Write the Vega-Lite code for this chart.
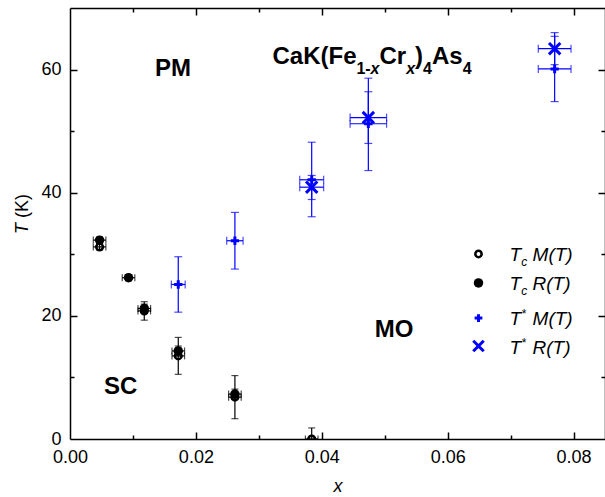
{
  "$schema": "https://vega.github.io/schema/vega-lite/v6.json",
  "width": 535,
  "height": 431,
  "autosize": {"type": "none"},
  "padding": {"left": 70, "top": 8, "right": 0, "bottom": 58},
  "background": "white",
  "config": {"font": "Liberation Sans", "view": {"stroke": null}},
  "datasets": {
    "ax": [{"x": 0, "T": 0}],
    "pts": [
      {"series": "TcM", "x": 0.0047, "xlo": 0.0037, "xhi": 0.0057, "T": 31.2, "Tlo": 30.7, "Thi": 31.7},
      {"series": "TcM", "x": 0.0118, "xlo": 0.0108, "xhi": 0.0128, "T": 20.8, "Tlo": 19.3, "Thi": 22.3},
      {"series": "TcM", "x": 0.0172, "xlo": 0.0162, "xhi": 0.0182, "T": 13.5, "Tlo": 10.5, "Thi": 16.5},
      {"series": "TcM", "x": 0.0262, "xlo": 0.0252, "xhi": 0.0272, "T": 6.8, "Tlo": 3.3, "Thi": 10.3},
      {"series": "TcM", "x": 0.0384, "xlo": 0.0374, "xhi": 0.0394, "T": 0, "Tlo": -1.8, "Thi": 1.8},
      {"series": "TcR", "x": 0.0047, "xlo": 0.0037, "xhi": 0.0057, "T": 32.3, "Tlo": 31.8, "Thi": 32.8},
      {"series": "TcR", "x": 0.0093, "xlo": 0.0083, "xhi": 0.0103, "T": 26.2, "Tlo": 25.7, "Thi": 26.7},
      {"series": "TcR", "x": 0.0118, "xlo": 0.0108, "xhi": 0.0128, "T": 21.2, "Tlo": 20.5, "Thi": 21.9},
      {"series": "TcR", "x": 0.0172, "xlo": 0.0162, "xhi": 0.0182, "T": 14.3, "Tlo": 13.5, "Thi": 15.1},
      {"series": "TcR", "x": 0.0262, "xlo": 0.0252, "xhi": 0.0272, "T": 7.3, "Tlo": 6.5, "Thi": 8.1},
      {"series": "TsM", "x": 0.0172, "xlo": 0.0161, "xhi": 0.0183, "T": 25.1, "Tlo": 20.6, "Thi": 29.6},
      {"series": "TsM", "x": 0.0262, "xlo": 0.0249, "xhi": 0.0275, "T": 32.2, "Tlo": 27.6, "Thi": 36.8},
      {"series": "TsM", "x": 0.0384, "xlo": 0.0365, "xhi": 0.0403, "T": 42.1, "Tlo": 36.1, "Thi": 48.2},
      {"series": "TsM", "x": 0.0474, "xlo": 0.0445, "xhi": 0.0503, "T": 51.2, "Tlo": 43.6, "Thi": 58.6},
      {"series": "TsM", "x": 0.077, "xlo": 0.0744, "xhi": 0.0796, "T": 60.1, "Tlo": 54.8, "Thi": 65.4},
      {"series": "TsR", "x": 0.0384, "xlo": 0.0365, "xhi": 0.0403, "T": 40.9, "Tlo": 38.9, "Thi": 42.8},
      {"series": "TsR", "x": 0.0474, "xlo": 0.0445, "xhi": 0.0503, "T": 52.2, "Tlo": 48.0, "Thi": 56.4},
      {"series": "TsR", "x": 0.077, "xlo": 0.0744, "xhi": 0.0796, "T": 63.4, "Tlo": 60.8, "Thi": 66.0}
    ],
    "leg": [
      {"series": "TcM", "x": 0.0649, "T": 30.05},
      {"series": "TcR", "x": 0.0649, "T": 25.34},
      {"series": "TsM", "x": 0.0649, "T": 19.65},
      {"series": "TsR", "x": 0.0649, "T": 15.1}
    ],
    "bigText": [
      {"text": "CaK(Fe", "x": 0.032175, "T": 60.9},
      {"text": "Cr", "x": 0.049175, "T": 60.9},
      {"text": ")", "x": 0.054825, "T": 60.9},
      {"text": "As", "x": 0.057508, "T": 60.9},
      {"text": "PM", "x": 0.0135, "T": 59.0},
      {"text": "SC", "x": 0.0054, "T": 7.37},
      {"text": "MO", "x": 0.0484, "T": 16.63}
    ],
    "subText": [
      {"text": "1-", "x": 0.045508, "T": 59.2},
      {"text": "4", "x": 0.056095, "T": 59.2},
      {"text": "4", "x": 0.062381, "T": 59.2}
    ],
    "subItalic": [
      {"text": "x", "x": 0.047762, "T": 59.2},
      {"text": "x", "x": 0.053413, "T": 59.2}
    ],
    "legText": [
      {"text": "T", "x": 0.06984, "T": 28.91},
      {"text": "M(T)", "x": 0.07349, "T": 28.91},
      {"text": "T", "x": 0.06984, "T": 24.15},
      {"text": "R(T)", "x": 0.07349, "T": 24.15},
      {"text": "T", "x": 0.06984, "T": 18.47},
      {"text": "M(T)", "x": 0.07349, "T": 18.47},
      {"text": "T", "x": 0.06984, "T": 13.85},
      {"text": "R(T)", "x": 0.07349, "T": 13.85}
    ],
    "legSub": [
      {"text": "c", "x": 0.07168, "T": 28.1},
      {"text": "c", "x": 0.07168, "T": 23.34},
      {"text": "*", "x": 0.07168, "T": 19.6},
      {"text": "*", "x": 0.07168, "T": 15.0}
    ],
    "yTitleItalic": [{"text": "T", "x": -0.00746, "T": 33.3}],
    "yTitleNormal": [{"text": "(K)", "x": -0.00746, "T": 35.9}]
  },
  "resolve": {"axis": {"x": "independent", "y": "independent"}},
  "layer": [
    {
      "data": {"name": "ax"},
      "mark": {"type": "point", "opacity": 0},
      "encoding": {
        "x": {"field": "x", "type": "quantitative", "scale": {"domain": [0, 0.085], "nice": false, "zero": false},
          "axis": {"orient": "bottom", "values": [0, 0.02, 0.04, 0.06, 0.08], "format": ".2f", "ticks": false, "domain": true, "domainColor": "black", "domainWidth": 1.5, "grid": false, "labelFontSize": 18, "labelColor": "black", "labelPadding": 9, "labelFlush": false, "labelOverlap": false, "title": "x", "titleFontStyle": "italic", "titleFontWeight": "normal", "titleFontSize": 18, "titleColor": "black", "titlePadding": 11}},
        "y": {"field": "T", "type": "quantitative", "scale": {"domain": [0, 70], "nice": false},
          "axis": {"orient": "left", "values": [0, 20, 40, 60], "ticks": false, "domain": true, "domainColor": "black", "domainWidth": 1.5, "grid": false, "labelFontSize": 18, "labelColor": "black", "labelPadding": 9, "labelFlush": false, "labelOverlap": false, "title": null}}
      }
    },
    {
      "data": {"name": "ax"},
      "mark": {"type": "point", "opacity": 0},
      "encoding": {
        "x": {"field": "x", "type": "quantitative", "scale": {"domain": [0, 0.085], "nice": false, "zero": false},
          "axis": {"orient": "bottom", "values": [0.02, 0.04, 0.06, 0.08], "labels": false, "domain": false, "ticks": true, "tickSize": -7, "tickWidth": 1.5, "tickColor": "black", "grid": false, "title": null}},
        "y": {"field": "T", "type": "quantitative", "scale": {"domain": [0, 70], "nice": false},
          "axis": {"orient": "left", "values": [20, 40, 60], "labels": false, "domain": false, "ticks": true, "tickSize": -7, "tickWidth": 1.5, "tickColor": "black", "grid": false, "title": null}}
      }
    },
    {
      "data": {"name": "ax"},
      "mark": {"type": "point", "opacity": 0},
      "encoding": {
        "x": {"field": "x", "type": "quantitative", "scale": {"domain": [0, 0.085], "nice": false, "zero": false},
          "axis": {"orient": "bottom", "values": [0.01, 0.03, 0.05, 0.07], "labels": false, "domain": false, "ticks": true, "tickSize": -4, "tickWidth": 1.5, "tickColor": "black", "grid": false, "title": null}},
        "y": {"field": "T", "type": "quantitative", "scale": {"domain": [0, 70], "nice": false},
          "axis": {"orient": "left", "values": [10, 30, 50], "labels": false, "domain": false, "ticks": true, "tickSize": -4, "tickWidth": 1.5, "tickColor": "black", "grid": false, "title": null}}
      }
    },
    {
      "data": {"name": "ax"},
      "mark": {"type": "point", "opacity": 0},
      "encoding": {
        "x": {"field": "x", "type": "quantitative", "scale": {"domain": [0, 0.085], "nice": false, "zero": false},
          "axis": {"orient": "top", "values": [0.02, 0.04, 0.06, 0.08], "labels": false, "domain": true, "domainColor": "black", "domainWidth": 1.5, "ticks": true, "tickSize": -7, "tickWidth": 1.5, "tickColor": "black", "grid": false, "title": null}},
        "y": {"field": "T", "type": "quantitative", "scale": {"domain": [0, 70], "nice": false},
          "axis": {"orient": "right", "values": [20, 40, 60], "labels": false, "domain": true, "domainColor": "black", "domainWidth": 1.5, "ticks": true, "tickSize": -7, "tickWidth": 1.5, "tickColor": "black", "grid": false, "title": null}}
      }
    },
    {
      "data": {"name": "ax"},
      "mark": {"type": "point", "opacity": 0},
      "encoding": {
        "x": {"field": "x", "type": "quantitative", "scale": {"domain": [0, 0.085], "nice": false, "zero": false},
          "axis": {"orient": "top", "values": [0.01, 0.03, 0.05, 0.07], "labels": false, "domain": false, "ticks": true, "tickSize": -4, "tickWidth": 1.5, "tickColor": "black", "grid": false, "title": null}},
        "y": {"field": "T", "type": "quantitative", "scale": {"domain": [0, 70], "nice": false},
          "axis": {"orient": "right", "values": [10, 30, 50], "labels": false, "domain": false, "ticks": true, "tickSize": -4, "tickWidth": 1.5, "tickColor": "black", "grid": false, "title": null}}
      }
    },
    {
      "data": {"name": "pts"},
      "transform": [{"filter": "datum.series == 'TcM' || datum.series == 'TcR'"}],
      "mark": {"type": "errorbar", "color": "black", "thickness": 1.2, "ticks": {"size": 7}, "clip": true},
      "encoding": {
        "x": {"field": "x", "type": "quantitative", "scale": {"domain": [0, 0.085], "nice": false, "zero": false}, "axis": null},
        "y": {"field": "Tlo", "type": "quantitative", "scale": {"domain": [0, 70], "nice": false}, "axis": null},
        "y2": {"field": "Thi"}
      }
    },
    {
      "data": {"name": "pts"},
      "transform": [{"filter": "datum.series == 'TcM' || datum.series == 'TcR'"}],
      "mark": {"type": "errorbar", "color": "black", "thickness": 1.2, "ticks": {"size": 7}, "clip": true},
      "encoding": {
        "x": {"field": "xlo", "type": "quantitative", "scale": {"domain": [0, 0.085], "nice": false, "zero": false}, "axis": null},
        "x2": {"field": "xhi"},
        "y": {"field": "T", "type": "quantitative", "scale": {"domain": [0, 70], "nice": false}, "axis": null}
      }
    },
    {
      "data": {"name": "pts"},
      "transform": [{"filter": "datum.series == 'TsM' || datum.series == 'TsR'"}],
      "mark": {"type": "errorbar", "color": "#0000ff", "thickness": 1.2, "ticks": {"size": 8}, "clip": true},
      "encoding": {
        "x": {"field": "x", "type": "quantitative", "scale": {"domain": [0, 0.085], "nice": false, "zero": false}, "axis": null},
        "y": {"field": "Tlo", "type": "quantitative", "scale": {"domain": [0, 70], "nice": false}, "axis": null},
        "y2": {"field": "Thi"}
      }
    },
    {
      "data": {"name": "pts"},
      "transform": [{"filter": "datum.series == 'TsM' || datum.series == 'TsR'"}],
      "mark": {"type": "errorbar", "color": "#0000ff", "thickness": 1.2, "ticks": {"size": 8}, "clip": true},
      "encoding": {
        "x": {"field": "xlo", "type": "quantitative", "scale": {"domain": [0, 0.085], "nice": false, "zero": false}, "axis": null},
        "x2": {"field": "xhi"},
        "y": {"field": "T", "type": "quantitative", "scale": {"domain": [0, 70], "nice": false}, "axis": null}
      }
    },
    {
      "data": {"name": "pts"},
      "transform": [{"filter": "datum.series == 'TcM'"}],
      "mark": {"type": "point", "shape": "circle", "filled": false, "stroke": "black", "strokeWidth": 2.5, "size": 44, "opacity": 1, "clip": true},
      "encoding": {
        "x": {"field": "x", "type": "quantitative", "scale": {"domain": [0, 0.085], "nice": false, "zero": false}, "axis": null},
        "y": {"field": "T", "type": "quantitative", "scale": {"domain": [0, 70], "nice": false}, "axis": null}
      }
    },
    {
      "data": {"name": "pts"},
      "transform": [{"filter": "datum.series == 'TcR'"}],
      "mark": {"type": "point", "shape": "circle", "filled": true, "color": "black", "size": 90, "opacity": 1},
      "encoding": {
        "x": {"field": "x", "type": "quantitative", "scale": {"domain": [0, 0.085], "nice": false, "zero": false}, "axis": null},
        "y": {"field": "T", "type": "quantitative", "scale": {"domain": [0, 70], "nice": false}, "axis": null}
      }
    },
    {
      "data": {"name": "pts"},
      "transform": [{"filter": "datum.series == 'TsM'"}],
      "mark": {"type": "point", "shape": "M-1,0L1,0M0,-1L0,1", "filled": false, "stroke": "#0000ff", "strokeWidth": 3, "size": 70, "opacity": 1},
      "encoding": {
        "x": {"field": "x", "type": "quantitative", "scale": {"domain": [0, 0.085], "nice": false, "zero": false}, "axis": null},
        "y": {"field": "T", "type": "quantitative", "scale": {"domain": [0, 70], "nice": false}, "axis": null}
      }
    },
    {
      "data": {"name": "pts"},
      "transform": [{"filter": "datum.series == 'TsR'"}],
      "mark": {"type": "point", "shape": "M-1,-1L1,1M-1,1L1,-1", "filled": false, "stroke": "#0000ff", "strokeWidth": 3, "size": 130, "opacity": 1},
      "encoding": {
        "x": {"field": "x", "type": "quantitative", "scale": {"domain": [0, 0.085], "nice": false, "zero": false}, "axis": null},
        "y": {"field": "T", "type": "quantitative", "scale": {"domain": [0, 70], "nice": false}, "axis": null}
      }
    },
    {
      "data": {"name": "leg"},
      "transform": [{"filter": "datum.series == 'TcM'"}],
      "mark": {"type": "point", "shape": "circle", "filled": false, "stroke": "black", "strokeWidth": 2.5, "size": 40, "opacity": 1},
      "encoding": {
        "x": {"field": "x", "type": "quantitative", "scale": {"domain": [0, 0.085], "nice": false, "zero": false}, "axis": null},
        "y": {"field": "T", "type": "quantitative", "scale": {"domain": [0, 70], "nice": false}, "axis": null}
      }
    },
    {
      "data": {"name": "leg"},
      "transform": [{"filter": "datum.series == 'TcR'"}],
      "mark": {"type": "point", "shape": "circle", "filled": true, "color": "black", "size": 90, "opacity": 1},
      "encoding": {
        "x": {"field": "x", "type": "quantitative", "scale": {"domain": [0, 0.085], "nice": false, "zero": false}, "axis": null},
        "y": {"field": "T", "type": "quantitative", "scale": {"domain": [0, 70], "nice": false}, "axis": null}
      }
    },
    {
      "data": {"name": "leg"},
      "transform": [{"filter": "datum.series == 'TsM'"}],
      "mark": {"type": "point", "shape": "M-1,0L1,0M0,-1L0,1", "filled": false, "stroke": "#0000ff", "strokeWidth": 3, "size": 60, "opacity": 1},
      "encoding": {
        "x": {"field": "x", "type": "quantitative", "scale": {"domain": [0, 0.085], "nice": false, "zero": false}, "axis": null},
        "y": {"field": "T", "type": "quantitative", "scale": {"domain": [0, 70], "nice": false}, "axis": null}
      }
    },
    {
      "data": {"name": "leg"},
      "transform": [{"filter": "datum.series == 'TsR'"}],
      "mark": {"type": "point", "shape": "M-1,-1L1,1M-1,1L1,-1", "filled": false, "stroke": "#0000ff", "strokeWidth": 3, "size": 110, "opacity": 1},
      "encoding": {
        "x": {"field": "x", "type": "quantitative", "scale": {"domain": [0, 0.085], "nice": false, "zero": false}, "axis": null},
        "y": {"field": "T", "type": "quantitative", "scale": {"domain": [0, 70], "nice": false}, "axis": null}
      }
    },
    {
      "data": {"name": "bigText"},
      "mark": {"type": "text", "align": "left", "baseline": "alphabetic", "fontSize": 24, "fontWeight": "bold", "color": "black"},
      "encoding": {
        "x": {"field": "x", "type": "quantitative", "scale": {"domain": [0, 0.085], "nice": false, "zero": false}, "axis": null},
        "y": {"field": "T", "type": "quantitative", "scale": {"domain": [0, 70], "nice": false}, "axis": null},
        "text": {"field": "text"}
      }
    },
    {
      "data": {"name": "subText"},
      "mark": {"type": "text", "align": "left", "baseline": "alphabetic", "fontSize": 16, "fontWeight": "bold", "color": "black"},
      "encoding": {
        "x": {"field": "x", "type": "quantitative", "scale": {"domain": [0, 0.085], "nice": false, "zero": false}, "axis": null},
        "y": {"field": "T", "type": "quantitative", "scale": {"domain": [0, 70], "nice": false}, "axis": null},
        "text": {"field": "text"}
      }
    },
    {
      "data": {"name": "subItalic"},
      "mark": {"type": "text", "align": "left", "baseline": "alphabetic", "fontSize": 16, "fontWeight": "bold", "fontStyle": "italic", "color": "black"},
      "encoding": {
        "x": {"field": "x", "type": "quantitative", "scale": {"domain": [0, 0.085], "nice": false, "zero": false}, "axis": null},
        "y": {"field": "T", "type": "quantitative", "scale": {"domain": [0, 70], "nice": false}, "axis": null},
        "text": {"field": "text"}
      }
    },
    {
      "data": {"name": "legText"},
      "mark": {"type": "text", "align": "left", "baseline": "alphabetic", "fontSize": 19, "fontStyle": "italic", "color": "black"},
      "encoding": {
        "x": {"field": "x", "type": "quantitative", "scale": {"domain": [0, 0.085], "nice": false, "zero": false}, "axis": null},
        "y": {"field": "T", "type": "quantitative", "scale": {"domain": [0, 70], "nice": false}, "axis": null},
        "text": {"field": "text"}
      }
    },
    {
      "data": {"name": "legSub"},
      "mark": {"type": "text", "align": "left", "baseline": "alphabetic", "fontSize": 12, "fontStyle": "italic", "color": "black"},
      "encoding": {
        "x": {"field": "x", "type": "quantitative", "scale": {"domain": [0, 0.085], "nice": false, "zero": false}, "axis": null},
        "y": {"field": "T", "type": "quantitative", "scale": {"domain": [0, 70], "nice": false}, "axis": null},
        "text": {"field": "text"}
      }
    },
    {
      "data": {"name": "yTitleItalic"},
      "mark": {"type": "text", "align": "left", "baseline": "middle", "angle": 270, "fontSize": 18, "fontStyle": "italic", "color": "black"},
      "encoding": {
        "x": {"field": "x", "type": "quantitative", "scale": {"domain": [0, 0.085], "nice": false, "zero": false}, "axis": null},
        "y": {"field": "T", "type": "quantitative", "scale": {"domain": [0, 70], "nice": false}, "axis": null},
        "text": {"field": "text"}
      }
    },
    {
      "data": {"name": "yTitleNormal"},
      "mark": {"type": "text", "align": "left", "baseline": "middle", "angle": 270, "fontSize": 18, "color": "black"},
      "encoding": {
        "x": {"field": "x", "type": "quantitative", "scale": {"domain": [0, 0.085], "nice": false, "zero": false}, "axis": null},
        "y": {"field": "T", "type": "quantitative", "scale": {"domain": [0, 70], "nice": false}, "axis": null},
        "text": {"field": "text"}
      }
    }
  ]
}
